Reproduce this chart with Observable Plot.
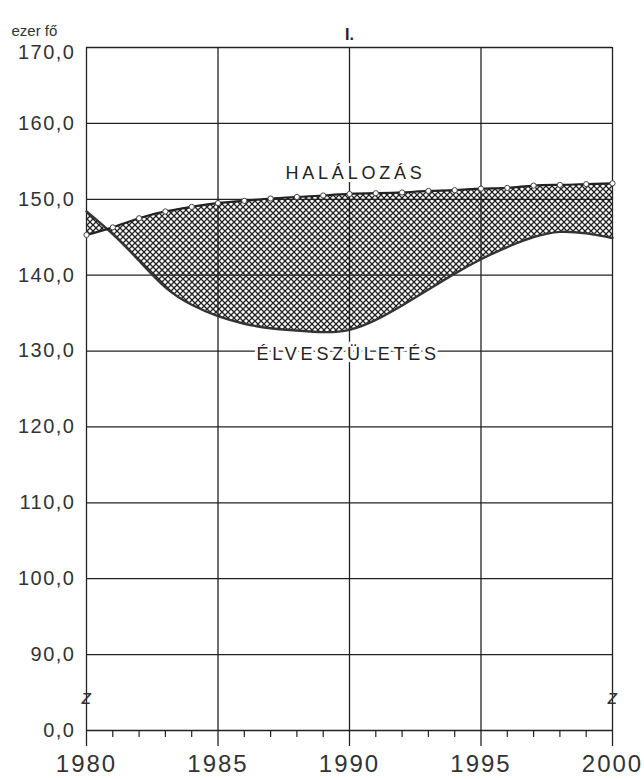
<!DOCTYPE html>
<html>
<head>
<meta charset="utf-8">
<script src="https://cdn.jsdelivr.net/npm/d3@7"></script>
<script src="https://cdn.jsdelivr.net/npm/@observablehq/plot@0.6"></script>
<style>
  html, body { margin: 0; padding: 0; background: #fff; }
</style>
</head>
<body>
<div id="chart"></div>
<script>
// ---- data (thousand persons, "ezer fő") ----
const years  = [1980,1981,1982,1983,1984,1985,1986,1987,1988,1989,1990,1991,1992,1993,1994,1995,1996,1997,1998,1999,2000];
const deaths = [145.3,146.3,147.5,148.4,149.0,149.5,149.8,150.1,150.3,150.5,150.7,150.8,150.9,151.1,151.2,151.4,151.5,151.8,151.9,152.0,152.1]; // HALÁLOZÁS
const births = [148.4,145.4,141.9,138.4,136.1,134.6,133.6,133.0,132.7,132.5,132.8,134.1,136.0,138.1,140.2,142.1,143.7,145.0,145.7,145.5,144.9]; // ÉLVESZÜLETÉS
const yTicks = [80,90,100,110,120,130,140,150,160,170];
const yTickLabels = ["0,0","90,0","100,0","110,0","120,0","130,0","140,0","150,0","160,0","170,0"];
const xMajor = [1980,1985,1990,1995,2000];
const xMinor = [1981,1982,1983,1984,1986,1987,1988,1989,1991,1992,1993,1994,1996,1997,1998,1999];
const seriesLabels = ["HALÁLOZÁS","ÉLVESZÜLETÉS"];
const unitLabel = "ezer fő";
const title = "I.";

const rows = years.map((y,i) => ({year: y, deaths: deaths[i], births: births[i]}));
const lab = d => yTickLabels[yTicks.indexOf(d)];
const ink = "#222";
const topTick = yTicks.slice(-1);
const otherTicks = yTicks.slice(0, -1);

const svg = Plot.plot({
  width: 644, height: 779,
  marginLeft: 86, marginRight: 32, marginTop: 47, marginBottom: 49,
  x: {type: "linear", domain: [1980, 2000]},
  y: {type: "linear", domain: [80, 170]},
  style: {fontFamily: "'Liberation Sans', Arial, sans-serif", background: "#fff", color: ink},
  marks: [
    Plot.gridY(yTicks, {stroke: ink, strokeOpacity: 1, strokeWidth: 1.3}),
    Plot.gridX(xMajor, {stroke: ink, strokeOpacity: 1, strokeWidth: 1.3}),
    Plot.axisY(otherTicks, {tickSize: 0, tickPadding: 11, fontSize: 20, tickFormat: lab, fill: "#333", label: null}),
    Plot.axisY(topTick, {tickSize: 0, tickPadding: 11, fontSize: 20, dy: 5, tickFormat: lab, fill: "#333", label: null}),
    Plot.axisX(xMajor, {tickSize: 16, tickPadding: 8, fontSize: 24, tickFormat: d => String(d), stroke: ink, strokeWidth: 1.3, fill: "#333", label: null}),
    Plot.axisX(xMinor, {tickSize: 7, tickFormat: () => "", stroke: ink, strokeWidth: 1.2, label: null}),
    Plot.areaY(rows, {x: "year", y1: "births", y2: "deaths", fill: "url(#hatch)", curve: "natural"}),
    Plot.lineY(rows, {x: "year", y: "births", stroke: "#333", strokeWidth: 2.4, curve: "natural"}),
    Plot.lineY(rows, {x: "year", y: "deaths", stroke: ink, strokeWidth: 2.2, curve: "natural"}),
    Plot.dot(rows, {x: "year", y: "deaths", r: 2.6, fill: "#fff", stroke: "#444", strokeWidth: 1}),
    Plot.text([seriesLabels[0]], {x: 1990.23, y: 153.4, text: d => d, fontSize: 18, fill: ink, stroke: "#fff", strokeWidth: 6}),
    Plot.text([seriesLabels[1]], {x: 1989.95, y: 129.6, text: d => d, fontSize: 18, fill: ink, stroke: "#fff", strokeWidth: 6}),
    Plot.text([1980, 2000], {x: d => d, y: () => 84.4, text: () => "z", fontSize: 20, fontStyle: "italic", fill: "#333"}),
    Plot.text([title], {frameAnchor: "top", dy: -19, text: d => d, fontSize: 16, fontWeight: "bold", fill: ink}),
    Plot.text([unitLabel], {frameAnchor: "top-left", dx: -75, dy: -22, text: d => d, fontSize: 15, textAnchor: "start", fill: "#333"})
  ]
});

// letter spacing like the printed original
svg.querySelectorAll("text").forEach(t => {
  const s = t.textContent;
  if (seriesLabels.includes(s)) t.style.letterSpacing = "3.8px";
  else if (yTickLabels.includes(s)) t.style.letterSpacing = "1.5px";
  else if (/^\d{4}$/.test(s)) t.style.letterSpacing = "2px";
});

// hatch pattern definition
const ns = "http://www.w3.org/2000/svg";
const defs = document.createElementNS(ns, "defs");
defs.innerHTML = `<pattern id="hatch" patternUnits="userSpaceOnUse" width="6" height="6">
  <path d="M-1,-1 L7,7 M7,-1 L-1,7" stroke="#222" stroke-width="1.3" fill="none"/>
</pattern>`;
svg.insertBefore(defs, svg.firstChild);

document.getElementById("chart").appendChild(svg);
</script>
</body>
</html>
